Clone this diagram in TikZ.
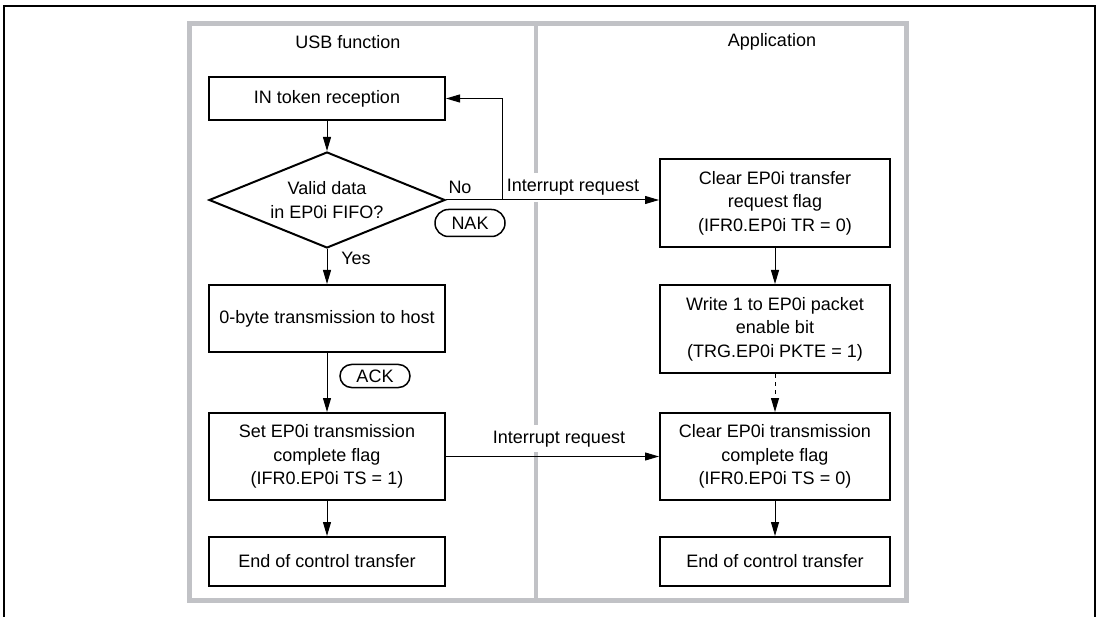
\documentclass[tikz,border=0pt]{standalone}
\usepackage{fontspec}
\setmainfont{Liberation Sans}
\usetikzlibrary{shapes.geometric,arrows.meta}
\definecolor{framegray}{RGB}{193,194,198}
\begin{document}
\begin{tikzpicture}[x=1pt,y=-1pt,
  every node/.style={font=\fontsize{18}{23.5}\selectfont},
  box/.style={draw,line width=2pt,align=center,inner sep=0pt,minimum width=236pt},
  rbox/.style={draw,line width=2pt,align=center,inner sep=0pt,minimum width=230pt},
  pill/.style={draw,line width=1.5pt,inner sep=0pt,minimum width=70pt},
  flow/.style={line width=1pt,-{Triangle[length=14pt,width=8pt]}},
  plain/.style={inner sep=0pt}]
\useasboundingbox (0,0) rectangle (1100,617);
% outer black frame (open at bottom)
\draw[line width=2.5pt] (4,617) -- (4,6) -- (1095,6) -- (1095,617);
% gray frame and divider
\draw[framegray,line width=5pt] (189.5,23.5) rectangle (906.5,600);
\draw[framegray,line width=4.5pt] (536,23.5) -- (536,173);
\draw[framegray,line width=4.5pt] (536,202) -- (536,425);
\draw[framegray,line width=4.5pt] (536,452) -- (536,600);
% headings
\node[plain] (hUSB) at (348,42) {USB function};
\node[plain] (hApp) at (772,42) {Application};
% left column
\node[box,minimum height=43pt] (L1) at (327,98.5) {IN token reception};
\node[draw,diamond,line width=2pt,inner sep=0pt,aspect=2.46,minimum width=236pt,minimum height=96pt,align=center] (D) at (327,200) {Valid data\\in EP0i FIFO?};
\node[box,minimum height=67pt] (L3) at (327,318.5) {0-byte transmission to host};
\node[box,minimum height=87pt] (L4) at (327,456.5) {Set EP0i transmission\\complete flag\\(IFR0.EP0i TS = 1)};
\node[box,minimum height=49pt] (L5) at (327,561.5) {End of control transfer};
% right column
\node[rbox,minimum height=88pt] (R1) at (775,203) {Clear EP0i transfer\\request flag\\(IFR0.EP0i TR = 0)};
\node[rbox,minimum height=88pt] (R2) at (775,329) {Write 1 to EP0i packet\\enable bit\\(TRG.EP0i PKTE = 1)};
\node[rbox,minimum height=87pt] (R3) at (775,456.5) {Clear EP0i transmission\\complete flag\\(IFR0.EP0i TS = 0)};
\node[rbox,minimum height=49pt] (R4) at (775,561.5) {End of control transfer};
% pills and labels
\node[pill,minimum height=27pt,rounded corners=13.5pt] (NAK) at (470,223) {NAK};
\node[pill,minimum height=23pt,rounded corners=11.5pt] (ACK) at (375,376) {ACK};
\node[plain] (No) at (460,187) {No};
\node[plain] (Yes) at (356,258) {Yes};
\node[plain] (IR1) at (573,187) {Interrupt request};
\node[plain] (IR2) at (559,439) {Interrupt request};
\coordinate (loop) at (502,200);
% connectors
\draw[flow] (L1) -- (D);
\draw[flow] (D) -- (L3);
\draw[flow] (L3) -- (L4);
\draw[flow] (L4) -- (L5);
\draw[flow] (D.east) -- (D.east -| R1.west);
\draw[flow] (loop) |- (L1.east);
\draw[flow] (R1) -- (R2);
\draw[flow,dash pattern=on 4pt off 4pt] (R2) -- (R3);
\draw[flow] (R3) -- (R4);
\draw[flow] (L4.east) -- (R3.west);
\end{tikzpicture}
\end{document}
